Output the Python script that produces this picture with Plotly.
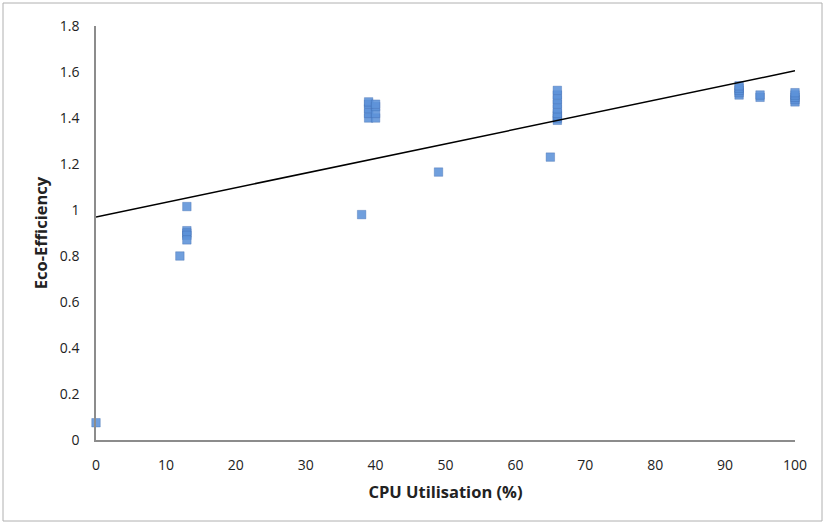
import plotly.graph_objects as go

cpu_util = [0, 12, 13, 13, 13, 13, 13, 38,
            39, 39, 39, 39, 39, 40, 40, 40, 40,
            49, 65,
            66, 66, 66, 66, 66, 66, 66, 66, 66,
            92, 92, 92, 92, 92, 95, 95,
            100, 100, 100, 100, 100]
eco_eff = [0.075, 0.80, 1.015, 0.91, 0.90, 0.89, 0.87, 0.98,
           1.40, 1.42, 1.44, 1.46, 1.47, 1.40, 1.42, 1.45, 1.46,
           1.165, 1.23,
           1.39, 1.40, 1.41, 1.42, 1.44, 1.46, 1.48, 1.50, 1.52,
           1.50, 1.51, 1.52, 1.53, 1.54, 1.49, 1.50,
           1.47, 1.48, 1.49, 1.50, 1.51]
trend_x = [0, 100]
trend_y = [0.97, 1.605]

x_ticks = [0, 10, 20, 30, 40, 50, 60, 70, 80, 90, 100]
y_ticks = [0, 0.2, 0.4, 0.6, 0.8, 1, 1.2, 1.4, 1.6, 1.8]
y_tick_labels = ["0", "0.2", "0.4", "0.6", "0.8", "1", "1.2", "1.4", "1.6", "1.8"]

fig = go.Figure()
fig.add_trace(go.Scatter(
    x=cpu_util, y=eco_eff, mode="markers",
    marker=dict(symbol="square", size=8.5, color="rgba(92,146,216,0.88)",
                line=dict(width=0.6, color="rgba(60,100,170,0.6)")),
    showlegend=False, hoverinfo="x+y", cliponaxis=False))
fig.add_trace(go.Scatter(
    x=trend_x, y=trend_y, mode="lines",
    line=dict(color="black", width=1.5), showlegend=False))

fig.update_layout(
    width=826, height=525,
    margin=dict(l=96, r=31, t=26, b=85, autoexpand=False),
    paper_bgcolor="white", plot_bgcolor="white",
    font=dict(family="Open Sans, Liberation Sans, sans-serif", size=14, color="#222"),
    shapes=[dict(type="rect", xref="paper", yref="paper",
                 x0=-93/699, x1=1 + 27/699, y0=-81/414, y1=1 + 23/414,
                 line=dict(color="#b0b0b0", width=1))],
)
fig.update_xaxes(
    range=[0, 100], tickvals=x_ticks, showgrid=False, zeroline=False,
    showline=True, linecolor="#8c8c8c", linewidth=1.5, ticks="",
    tickfont=dict(size=14), ticklabelstandoff=11, automargin=False,
    title=dict(text="<b>CPU Utilisation (%)</b>", font=dict(size=16.5), standoff=14),
)
fig.update_yaxes(
    range=[0, 1.8], tickvals=y_ticks, ticktext=y_tick_labels, showgrid=False,
    zeroline=False, showline=True, linecolor="#8c8c8c", linewidth=1.5, ticks="",
    tickfont=dict(size=14), ticklabelstandoff=12, automargin=False,
    title=dict(text="<b>Eco-Efficiency</b>", font=dict(size=16.5), standoff=8),
)

fig.write_html("out.html", config={"displayModeBar": False},
               post_script="document.body.style.margin='0';")
